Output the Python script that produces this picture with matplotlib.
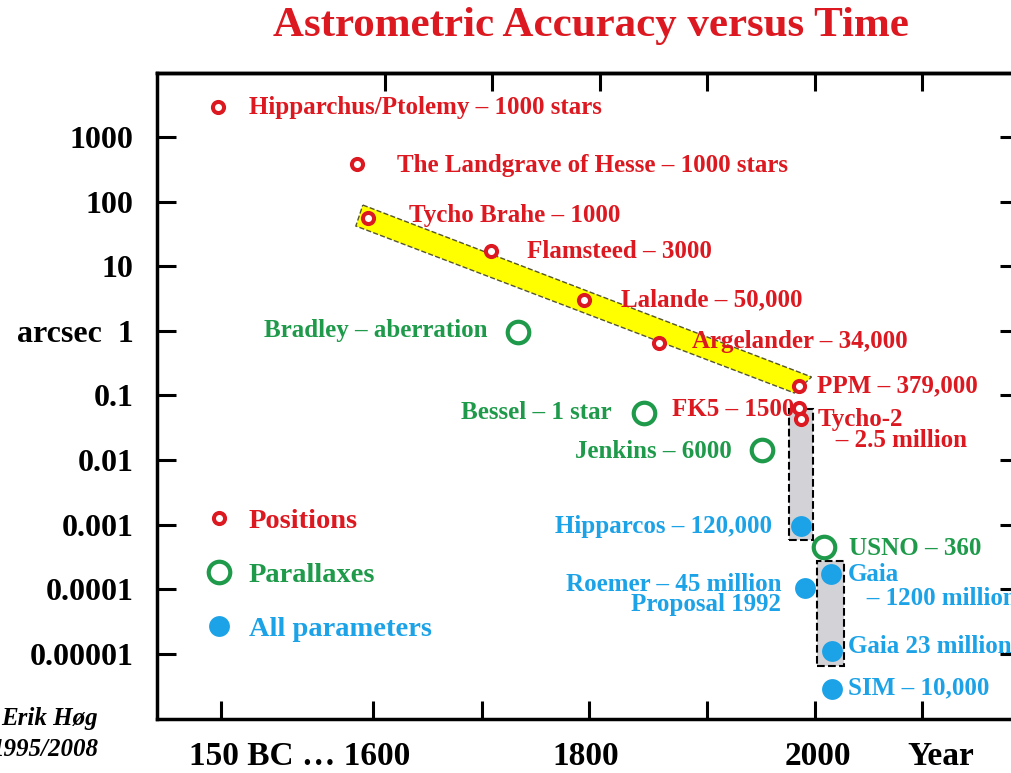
import matplotlib
matplotlib.use("Agg")
import matplotlib.pyplot as plt
from matplotlib.patches import Polygon, Rectangle
from matplotlib.ticker import FixedLocator, NullLocator

plt.rcParams['font.family'] = ['Liberation Serif', 'DejaVu Serif']
plt.rcParams['font.weight'] = 'bold'

RED = '#dc1820'
GREEN = '#1e9a4a'
BLUE = '#1ca2e6'

# positions (red rings)
pos_names = ["Hipparchus/Ptolemy – 1000 stars", "The Landgrave of Hesse – 1000 stars",
             "Tycho Brahe – 1000", "Flamsteed – 3000", "Lalande – 50,000",
             "Argelander – 34,000", "PPM – 379,000", "FK5 – 1500",
             "Tycho-2\n   – 2.5 million"]
pos_year = [1445, 1574, 1584, 1699, 1785, 1855, 1985, 1985, 1987]
pos_arcsec = [2900, 380, 56, 17, 3.0, 0.65, 0.14, 0.064, 0.043]

# parallaxes (green rings)
par_names = ["Bradley – aberration", "Bessel – 1 star", "Jenkins – 6000", "USNO – 360"]
par_year = [1724, 1841, 1951, 2009]
par_arcsec = [0.96, 0.054, 0.0143, 0.00045]

# all parameters (blue dots)
all_names = ["Hipparcos – 120,000", "Roemer – 45 million\nProposal 1992",
             "Gaia\n   – 1200 million", "Gaia 23 million", "SIM – 10,000"]
all_year = [1987, 1991, 2015, 2016, 2016]
all_arcsec = [0.00095, 0.000105, 0.000172, 1.1e-5, 2.85e-6]

# label offsets in points and alignment
pos_off = [(22, 0), (29, -1), (30, 2), (26, 0), (27, 0), (24, 1), (13, 0), (-3, -1), (12, -8)]
pos_ha = ['left'] * 7 + ['right', 'left']
par_off = [(-22, 1), (-23, 0), (-22, -1), (18, -1)]
par_ha = ['right', 'right', 'right', 'left']
all_off = [(-21, 0), (-17, -5), (12, -9), (11.5, 3), (11.5, 1)]
all_ha = ['right', 'right', 'left', 'left', 'left']
all_ls = [0.9, 0.85, 1.05, 0.9, 0.9]

# yellow band and grey boxes
band_year = [1579.5, 1997, 1981, 1573]
band_arcsec = [88.5, 0.193, 0.109, 41.9]
boxes = [(1975.8, 1998.1, 0.000578, 0.0617), (2001.9, 2027, 6.5e-6, 2.73e-4)]

ytick_vals = [1e-5, 1e-4, 1e-3, 1e-2, 1e-1, 1, 10, 100, 1000]
ytick_labels = ['0.00001', '0.0001', '0.001', '0.01', '0.1', 'arcsec  1', '10', '100', '1000']
xlabel_pos = [1521, 1787, 2003, 2117]
xlabel_txt = ['150 BC … 1600', '1800', '2000', 'Year']
bottom_ticks = [1448, 1589, 1690, 1790, 1900, 2000, 2100]
top_ticks = [1600, 1700, 1800, 1900, 2000, 2100]

fig = plt.figure(figsize=(10.11, 7.73), dpi=100)
ax = fig.add_axes([0.1553, 0.0699, 0.8526, 0.8357])
ax.set_yscale('log')
ax.set_xlim(1388, 2190)
ax.set_ylim(0.98e-6, 9.8e3)

ax.add_patch(Polygon(list(zip(band_year, band_arcsec)), closed=True, facecolor='#ffff00',
                     edgecolor='#555533', linestyle='--', linewidth=1, zorder=1))
for x0, x1, y0, y1 in boxes:
    ax.add_patch(Rectangle((x0, y0), x1 - x0, y1 - y0, facecolor='#d3d3d7',
                           edgecolor='black', linestyle='--', linewidth=1.5, zorder=1))

ax.plot(pos_year, pos_arcsec, 'o', ms=8, mfc='white', mec=RED, mew=2.9, zorder=3, label='Positions')
ax.plot(par_year, par_arcsec, 'o', ms=15.5, mfc='none', mec=GREEN, mew=3, zorder=3, label='Parallaxes')
ax.plot(all_year, all_arcsec, 'o', ms=15, mfc=BLUE, mec='none', zorder=3, label='All parameters')

def put_labels(names, xs, ys, offs, has, color, ls=None):
    ls = ls or [0.9] * len(names)
    for n, x, y, o, h, l in zip(names, xs, ys, offs, has, ls):
        ax.annotate(n, (x, y), xytext=o, textcoords='offset points', ha=h, va='center',
                    color=color, fontsize=18, linespacing=l, multialignment=h, zorder=4)

put_labels(pos_names, pos_year, pos_arcsec, pos_off, pos_ha, RED)
put_labels(par_names, par_year, par_arcsec, par_off, par_ha, GREEN)
put_labels(all_names, all_year, all_arcsec, all_off, all_ha, BLUE, all_ls)

ax.legend(loc='upper left', bbox_to_anchor=(0.055, 0.326), frameon=False, fontsize=20.5,
          handlelength=1.0, handletextpad=0.56, labelspacing=0.98, borderpad=0,
          borderaxespad=0, labelcolor=[RED, GREEN, BLUE])

for s in ax.spines.values():
    s.set_linewidth(2.5)

ax.yaxis.set_major_locator(FixedLocator(ytick_vals))
ax.yaxis.set_minor_locator(NullLocator())
ax.set_yticklabels(ytick_labels)
ax.tick_params(axis='y', which='major', direction='in', length=13.5, width=2.2,
               right=True, labelsize=23, pad=17)

ax.set_xticks(xlabel_pos)
ax.set_xticklabels(xlabel_txt)
ax.tick_params(axis='x', which='major', length=0, labelsize=24, pad=16)
ax.xaxis.set_minor_locator(FixedLocator(bottom_ticks))
ax.tick_params(axis='x', which='minor', direction='in', length=13, width=2.2)

top = ax.secondary_xaxis('top')
top.set_xticks(top_ticks)
top.tick_params(direction='in', length=13, width=2.2, labeltop=False)
top.spines['top'].set_linewidth(2.5)

fig.text(0.585, 0.966, 'Astrometric Accuracy versus Time', ha='center', va='center',
         fontsize=31, color=RED)
fig.text(98 / 1011, 1 - 719 / 773, 'Erik Høg', ha='right', va='center',
         style='italic', fontsize=18)
fig.text(98 / 1011, 1 - 750 / 773, '1995/2008', ha='right', va='center',
         style='italic', fontsize=18)

fig.savefig('out.png', dpi=100)
